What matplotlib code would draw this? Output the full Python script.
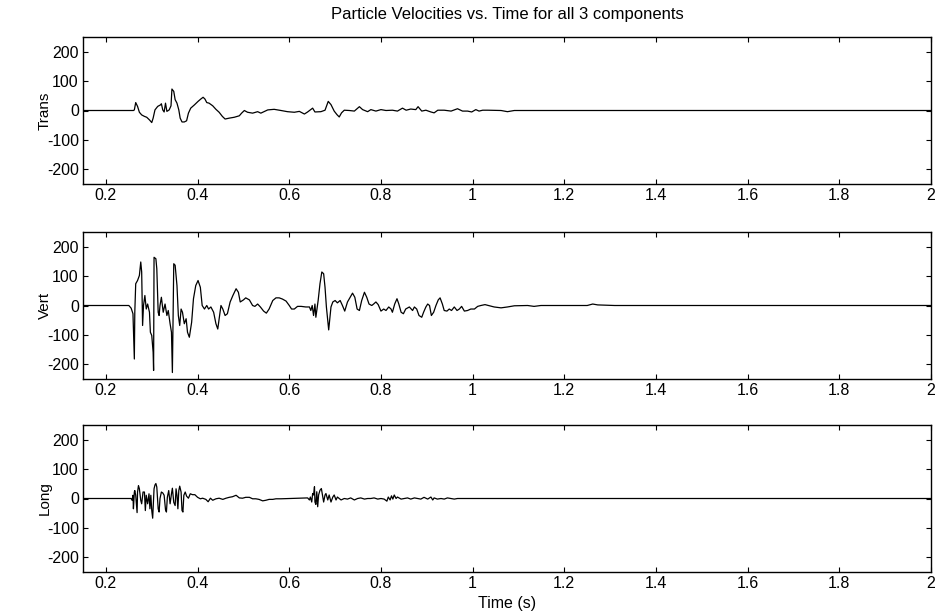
import matplotlib
matplotlib.use("Agg")
import matplotlib.pyplot as plt

plt.rcParams["font.family"] = ["Liberation Sans", "DejaVu Sans"]
plt.rcParams["axes.unicode_minus"] = False

# Transverse component: time (s) and particle velocity
trans_t = [0.150, 0.260, 0.262, 0.265, 0.269, 0.273, 0.278, 0.284, 0.289, 0.295,
           0.300, 0.303, 0.307, 0.313, 0.319, 0.321, 0.324, 0.327, 0.330, 0.333,
           0.338, 0.342, 0.344, 0.348, 0.351, 0.355, 0.359, 0.362, 0.366, 0.371,
           0.376, 0.380, 0.385, 0.393, 0.401, 0.407, 0.412, 0.416, 0.420, 0.425,
           0.433, 0.440, 0.447, 0.454, 0.460, 0.469, 0.480, 0.491, 0.496, 0.502,
           0.509, 0.520, 0.531, 0.538, 0.553, 0.567, 0.582, 0.596, 0.611, 0.622,
           0.633, 0.640, 0.651, 0.656, 0.669, 0.678, 0.685, 0.691, 0.698, 0.704,
           0.709, 0.714, 0.720, 0.731, 0.742, 0.753, 0.760, 0.771, 0.778, 0.789,
           0.800, 0.811, 0.825, 0.836, 0.847, 0.855, 0.865, 0.876, 0.881, 0.889,
           0.898, 0.909, 0.916, 0.924, 0.938, 0.953, 0.967, 0.978, 0.989, 0.998,
           1.007, 1.014, 1.022, 1.033, 1.062, 1.076, 1.091, 2.000]
trans_v = [0, 0, 2, 27, 14, -6, -15, -20, -23, -32,
           -41, -26, 2, 14, 19, 23, 2, -5, 25, -3,
           2, 16, 73, 65, 37, 25, 2, -26, -39, -39,
           -35, -9, 8, 19, 31, 39, 45, 39, 27, 25,
           16, 4, -6, -20, -29, -26, -23, -18, -9, 0,
           -6, -9, -4, -9, 2, 4, 0, -4, -6, -3,
           -12, -5, 8, -5, -4, 1, 31, 20, -2, -14,
           -22, -8, 1, 0, -2, 13, 3, -4, 3, -2,
           3, 0, 1, -2, 8, 1, 5, 3, 13, -2,
           1, -5, -8, 1, 1, -2, 6, -2, -2, -5,
           3, -2, 1, 1, 0, -4, 0, 0]

# Vertical component
vert_t = [0.150, 0.250, 0.255, 0.259, 0.262, 0.263, 0.265, 0.269, 0.273, 0.276,
          0.278, 0.280, 0.282, 0.285, 0.288, 0.291, 0.295, 0.297, 0.300, 0.303,
          0.304, 0.305, 0.309, 0.311, 0.314, 0.316, 0.318, 0.321, 0.325, 0.329,
          0.333, 0.336, 0.340, 0.343, 0.345, 0.348, 0.351, 0.355, 0.358, 0.361,
          0.364, 0.367, 0.371, 0.375, 0.378, 0.382, 0.387, 0.391, 0.396, 0.401,
          0.406, 0.410, 0.415, 0.420, 0.424, 0.429, 0.435, 0.440, 0.444, 0.447,
          0.451, 0.455, 0.460, 0.465, 0.471, 0.477, 0.484, 0.489, 0.493,
          0.500, 0.505, 0.513, 0.520, 0.525, 0.531, 0.537, 0.544, 0.550, 0.556,
          0.564, 0.571, 0.578, 0.585, 0.593, 0.600, 0.605, 0.611, 0.618, 0.626,
          0.636, 0.644, 0.647, 0.650, 0.653, 0.656, 0.658, 0.663, 0.667, 0.671,
          0.675, 0.678, 0.681, 0.684, 0.686, 0.688, 0.691, 0.695, 0.700, 0.705,
          0.711, 0.716, 0.721, 0.727, 0.733, 0.738, 0.743, 0.748, 0.753, 0.758,
          0.764, 0.769, 0.774, 0.780, 0.784, 0.789, 0.794, 0.800, 0.806, 0.811,
          0.817, 0.822, 0.825, 0.830, 0.835, 0.839, 0.844, 0.849, 0.854, 0.862,
          0.869, 0.873, 0.878, 0.883, 0.889, 0.893, 0.898, 0.902, 0.906, 0.910,
          0.915, 0.920, 0.925, 0.929, 0.934, 0.938, 0.944, 0.949, 0.954, 0.960,
          0.966, 0.971, 0.976, 0.982, 0.989, 0.996, 1.004, 1.011, 1.018, 1.027,
          1.047, 1.062, 1.076, 1.091, 1.120, 1.134, 1.149, 1.200, 1.250, 1.262,
          1.273, 1.310, 2.000]
vert_v = [0, 0, -9, -28, -182, -23, 74, 85, 102, 148,
          114, -68, 0, 34, -12, 5, -23, -91, -102, -159,
          -221, 164, 159, 125, -23, -34, 0, 28, -23, 5,
          -34, -17, -62, -91, -228, 142, 137, 68, -34, -68,
          -12, -23, -62, -45, -91, -108, -57, 23, 68, 85,
          62, 0, -12, 0, -12, -5, -23, -62, -80, -45,
          0, -12, -34, -28, 12, 34, 57, 45, 12,
          19, 26, 19, 0, -3, 5, -5, -19, -26, -12,
          17, 26, 26, 22, 15, 0, -12, -12, -3, -3,
          -5, -5, -17, 0, -34, 5, -40, 17, 74, 114,
          108, 62, -5, -52, -83, -52, -5, 12, 17, 9,
          17, 0, -19, 12, 28, 42, 28, -12, -17, 17,
          45, 28, 5, 0, 5, 12, 3, -19, -12, -17,
          -5, -12, -23, 5, 23, 5, -23, -28, -12, -5,
          -17, -5, -12, -34, -40, -23, -5, 5, 0, -34,
          -23, 0, 19, 26, 5, -17, -19, -12, -17, -5,
          -17, -12, -3, -19, -17, -12, -12, -3, 0, 3,
          -5, -8, -5, -1, 0, -3, 0, 0, 0, 5,
          2, 0, 0]

# Longitudinal component
long_t = [0.150, 0.255, 0.257, 0.259, 0.260, 0.262, 0.263, 0.265, 0.268, 0.269,
          0.271, 0.273, 0.276, 0.278, 0.281, 0.284, 0.286, 0.288, 0.291, 0.294,
          0.296, 0.298, 0.300, 0.302, 0.305, 0.307, 0.309, 0.311, 0.314, 0.316,
          0.318, 0.321, 0.324, 0.327, 0.330, 0.332, 0.334, 0.337, 0.340, 0.343,
          0.345, 0.348, 0.351, 0.353, 0.355, 0.357, 0.359, 0.361, 0.364, 0.366,
          0.368, 0.370, 0.373, 0.376, 0.380, 0.384, 0.389, 0.394, 0.400, 0.406,
          0.411, 0.418, 0.423, 0.428, 0.433, 0.440, 0.447, 0.455, 0.462, 0.469,
          0.476, 0.484, 0.491, 0.498, 0.505, 0.513, 0.520, 0.527, 0.534, 0.542,
          0.549, 0.556, 0.564, 0.571, 0.582,
          0.640, 0.644, 0.646, 0.649, 0.651, 0.653, 0.655, 0.656, 0.658, 0.660,
          0.662, 0.664, 0.667, 0.670, 0.673, 0.675, 0.678, 0.680, 0.684, 0.687,
          0.691, 0.695, 0.698, 0.702, 0.705, 0.709, 0.713, 0.720, 0.727, 0.734,
          0.742, 0.749, 0.756, 0.764, 0.771, 0.778, 0.785, 0.793, 0.800, 0.807,
          0.813, 0.816, 0.820, 0.823, 0.826, 0.829, 0.833, 0.836, 0.844, 0.851,
          0.858, 0.865, 0.873, 0.880, 0.887, 0.894, 0.902, 0.909, 0.913, 0.916,
          0.923, 0.931, 0.938, 0.945, 0.952, 0.960, 0.967, 2.000]
long_v = [0, 0, -6, 11, -35, 22, 27, 11, -48, 22,
          44, 33, -6, -18, 22, 22, -41, 11, -18, 16,
          -35, 11, -41, -67, 33, 46, 51, 39, -35, -46,
          0, 22, 19, 11, -38, -46, 4, 27, -18, 16,
          35, -13, -24, 33, 11, -35, 27, 42, 22, -41,
          -46, 11, 22, 8, 1, 16, 13, 13, 4, -1,
          1, -3, -11, 1, -6, -1, 1, -3, 1, 4,
          6, 11, 2, 1, 4, 4, -1, -1, -3, -8,
          -6, -3, -3, -1, -1,
          2, -5, 5, -12, 17, 12, 40, -12, -20, 23,
          -28, 12, 28, 34, 5, -12, 12, 17, -5, 12,
          -12, 5, 12, -5, 5, 0, -5, 0, -2, 2,
          -5, 0, 2, -2, 0, 0, 2, -2, 0, -2,
          -9, 5, -5, 9, -2, 12, 0, 5, -2, 0,
          2, -2, 2, 0, -2, 4, -2, 5, -5, 2,
          -2, 0, -2, 2, 0, -2, 0, 0]

components = ["Trans", "Vert", "Long"]
series = [(trans_t, trans_v), (vert_t, vert_v), (long_t, long_v)]
x_ticks = [0.2, 0.4, 0.6, 0.8, 1.0, 1.2, 1.4, 1.6, 1.8, 2.0]
x_tick_labels = ["0.2", "0.4", "0.6", "0.8", "1", "1.2", "1.4", "1.6", "1.8", "2"]
y_ticks = [-200, -100, 0, 100, 200]

W, H = 938, 613
fig = plt.figure(figsize=(W / 100, H / 100), dpi=100)

left_px, right_px = 83, 931
tops_px = [37, 232, 425]
panel_h = 147

axes = []
for i, (name, (t, v)) in enumerate(zip(components, series)):
    top = tops_px[i]
    ax = fig.add_axes([left_px / W, 1 - (top + panel_h) / H,
                       (right_px - left_px) / W, panel_h / H])
    ax.plot(t, v, color="black", linewidth=0.9)
    ax.set_xlim(0.15, 2.0)
    ax.set_ylim(-250, 250)
    ax.set_xticks(x_ticks)
    ax.set_xticklabels(x_tick_labels)
    ax.set_yticks(y_ticks)
    ax.tick_params(direction="in", length=3.5, width=0.8, top=True, right=True,
                   labelsize=11.5, pad=3.0, colors="black")
    for s in ax.spines.values():
        s.set_linewidth(1.0)
        s.set_color("black")
    ax.set_ylabel(name, fontsize=11)
    ax.yaxis.set_label_coords(-0.045, 0.5)
    ax.yaxis.label.set_va("center")
    axes.append(ax)

fig.text((left_px + right_px) / 2 / W, 1 - 14 / H,
         "Particle Velocities vs. Time for all 3 components",
         ha="center", va="center", fontsize=12)
axes[-1].set_xlabel("Time (s)", fontsize=11.5)
axes[-1].xaxis.set_label_coords(0.5, -0.215)
axes[-1].xaxis.label.set_va("center")

fig.savefig("out.png", dpi=100, facecolor="white")
